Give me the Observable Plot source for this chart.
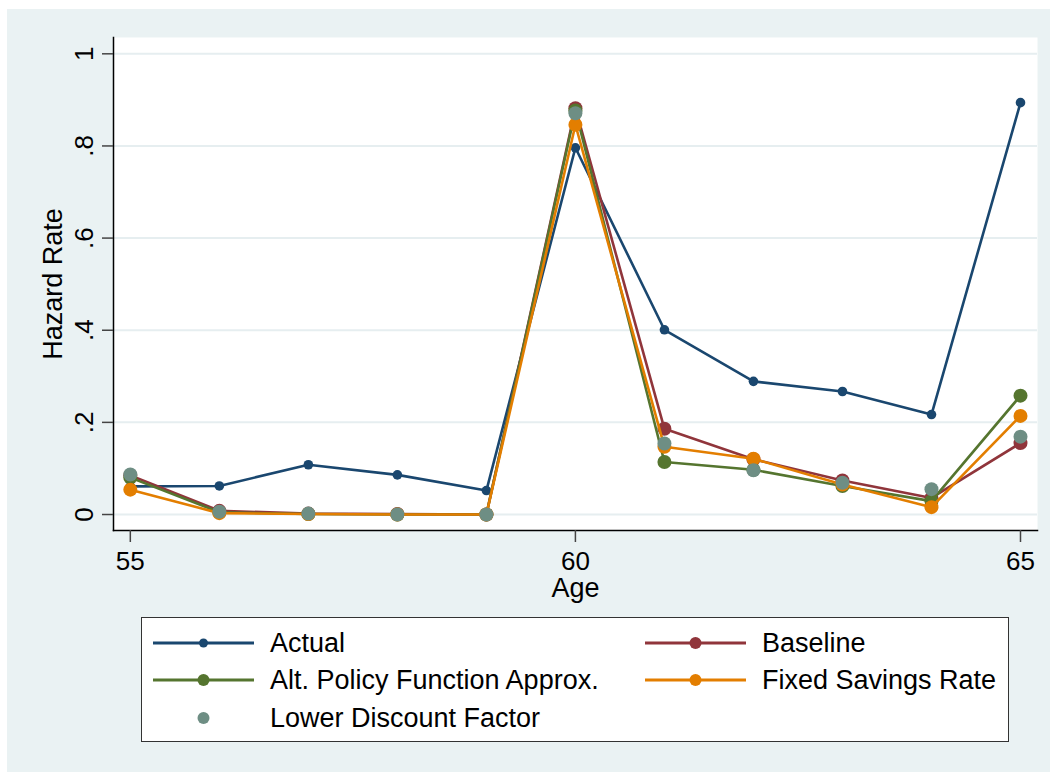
<!DOCTYPE html>
<html><head><meta charset="utf-8">
<script src="https://cdn.jsdelivr.net/npm/d3@7"></script>
<script src="https://cdn.jsdelivr.net/npm/@observablehq/plot@0.6"></script>
<style>
html,body{margin:0;padding:0;background:#fff;}
#fig{position:absolute;left:7px;top:9px;width:1043px;height:763px;background:#eaf2f3;font-family:"Liberation Sans",Arial,sans-serif;overflow:hidden;}
#chart{position:absolute;left:0;top:0;}
#legend{position:absolute;left:134px;top:608px;width:866px;height:123px;background:#fff;border:1px solid #333;}
.item{position:absolute;height:30px;}
.item svg{position:absolute;left:0;top:0;}
.item span{position:absolute;top:0;line-height:30px;font-size:27px;color:#000;white-space:nowrap;}
</style></head><body>
<div id="fig"><div id="chart"></div><div id="legend"></div></div>
<script>
const ages = [55, 56, 57, 58, 59, 60, 61, 62, 63, 64, 65];
const xTicks = [55, 60, 65];
const yTicks = [0, 0.2, 0.4, 0.6, 0.8, 1];
const yTickLabels = ["0", ".2", ".4", ".6", ".8", "1"];

const actual        = [0.061, 0.062, 0.108, 0.086, 0.052, 0.796, 0.401, 0.289, 0.267, 0.217, 0.894];
const baseline      = [0.085, 0.008, 0.002, 0.001, 0.000, 0.882, 0.186, 0.120, 0.074, 0.036, 0.155];
const altPolicy     = [0.080, 0.005, 0.001, 0.000, 0.000, 0.877, 0.114, 0.097, 0.062, 0.029, 0.258];
const fixedSavings  = [0.054, 0.003, 0.001, 0.000, 0.000, 0.846, 0.147, 0.121, 0.065, 0.016, 0.214];
const lowerDiscount = [0.087, 0.006, 0.002, 0.000, 0.000, 0.871, 0.154, 0.096, 0.069, 0.055, 0.169];

const seriesNames  = ["Actual", "Baseline", "Alt. Policy Function Approx.", "Fixed Savings Rate", "Lower Discount Factor"];
const seriesValues = [actual, baseline, altPolicy, fixedSavings, lowerDiscount];
const seriesColors = ["#1a476f", "#90353b", "#55752f", "#e37e00", "#6e8e84"];
const seriesRadius = [4.8, 7, 7, 7, 7];
const seriesLine   = [true, true, true, true, false];

const font = '"Liberation Sans", Arial, sans-serif';

const marks = [
  Plot.frame({fill: "white", stroke: null}),
  Plot.gridY(yTicks, {stroke: "#e6eef0", strokeOpacity: 1, strokeWidth: 2}),
  Plot.frame({anchor: "left", stroke: "#000", strokeWidth: 1.5}),
  Plot.frame({anchor: "bottom", stroke: "#000", strokeWidth: 1.5}),
  Plot.axisY(yTicks, {tickFormat: (d, i) => yTickLabels[yTicks.indexOf(d)], tickSize: 11, tickRotate: -90, tickPadding: 10, stroke: "#444", strokeWidth: 1.5, fontSize: 26, label: null, fill: "#000"}),
  Plot.axisX(xTicks, {tickSize: 12, tickPadding: 9, stroke: "#444", strokeWidth: 1.5, fontSize: 26, label: null, fill: "#000", tickFormat: d => String(d)}),
  Plot.text(["Hazard Rate"], {frameAnchor: "left", rotate: -90, dx: -60.5, textAnchor: "middle", lineAnchor: "middle", fontSize: 27, fill: "#000"}),
  Plot.text(["Age"], {frameAnchor: "bottom", dy: 58, textAnchor: "middle", lineAnchor: "middle", fontSize: 27, fill: "#000"})
];

seriesNames.forEach((name, s) => {
  const rows = ages.map((a, i) => ({age: a, value: seriesValues[s][i], series: name}));
  if (seriesLine[s]) marks.push(Plot.line(rows, {x: "age", y: "value", stroke: seriesColors[s], strokeWidth: 2.6}));
  marks.push(Plot.dot(rows, {x: "age", y: "value", r: seriesRadius[s], fill: seriesColors[s], stroke: "none"}));
});

const chart = Plot.plot({
  width: 1043, height: 600,
  marginLeft: 106, marginTop: 28, marginRight: 13, marginBottom: 79,
  style: {fontFamily: font, background: "transparent", color: "#000", overflow: "visible"},
  x: {domain: [54.811, 65.191]},
  y: {domain: [-0.0347, 1.0354]},
  marks
});
document.getElementById("chart").appendChild(chart);

// legend
const legend = document.getElementById("legend");
const colX = [11, 503];
const rowY = [24.5, 62, 100];
seriesNames.forEach((name, s) => {
  const col = s % 2, row = Math.floor(s / 2);
  const item = document.createElement("div");
  item.className = "item";
  item.style.left = colX[col] + "px";
  item.style.top = (rowY[row] - 15) + "px";
  item.style.width = "420px";
  const lineSvg = seriesLine[s] ? `<line x1="0" x2="101" y1="15" y2="15" stroke="${seriesColors[s]}" stroke-width="3"/>` : "";
  const r = s === 0 ? 4.5 : 6;
  item.innerHTML = `<svg width="110" height="30">${lineSvg}<circle cx="50.5" cy="15" r="${r}" fill="${seriesColors[s]}"/></svg><span style="left:117px">${name}</span>`;
  legend.appendChild(item);
});
</script>
</body></html>
